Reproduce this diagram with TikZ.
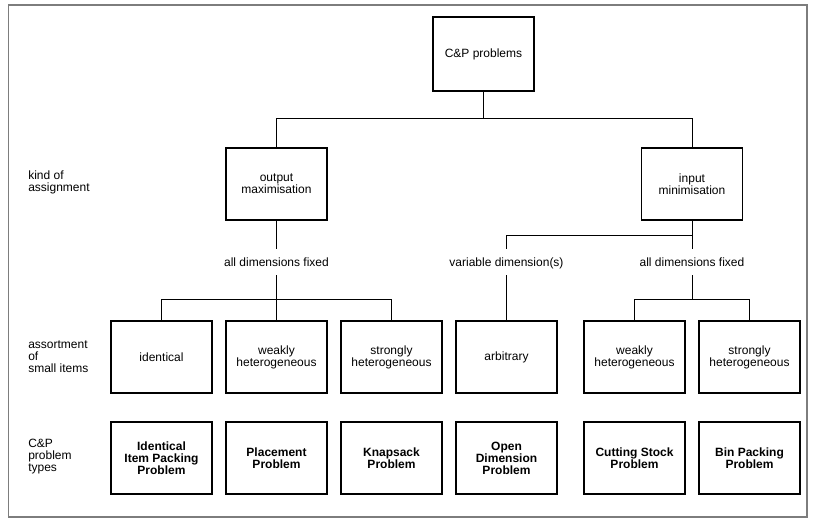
\documentclass[tikz,border=0pt]{standalone}
\usepackage{fontspec}
\setmainfont{Liberation Sans}
\definecolor{framegray}{RGB}{125,125,125}
\tikzset{
  box/.style={draw,line width=0.9pt,minimum width=75.75pt,minimum height=54pt,align=center,inner sep=0pt},
  tag/.style={inner sep=0pt,outer ysep=6.75pt,text height=6.6pt,text depth=0pt},
  side/.style={anchor=west,align=left,inner sep=0pt},
  wire/.style={line width=0.75pt}
}
\begin{document}
\begin{tikzpicture}[x=0.75pt,y=-0.75pt,font=\fontsize{9}{9}\selectfont]
\useasboundingbox (0,0) rectangle (818,528);
\draw [framegray,line width=0.9pt] (8.5,5) rectangle (807,517);

\node [side] (kind) at (28,182.5) {kind of\\assignment};
\node [side] (assort) at (28,357) {assortment\\of\\small items};
\node [side] (types) at (28,457) {C\&P\\problem\\types};

\node [box,minimum height=55.5pt] (cp) at (483.5,54) {C\&P problems};
\node [box] (out) at (276.5,184) {output\\maximisation};
\node [box] (in) at (692,184) {input\\minimisation};

\node [tag] (fixA) at (276.5,262) {all dimensions fixed};
\node [tag] (varD) at (506.5,262) {variable dimension(s)};
\node [tag] (fixB) at (692,262) {all dimensions fixed};

\node [box] (ident) at (161.5,357) {identical};
\node [box] (weakA) at (276.5,357) {weakly\\heterogeneous};
\node [box] (strongA) at (391.5,357) {strongly\\heterogeneous};
\node [box] (arb) at (506.5,357) {arbitrary};
\node [box] (weakB) at (634.5,357) {weakly\\heterogeneous};
\node [box] (strongB) at (749.5,357) {strongly\\heterogeneous};

\node [box,font=\fontsize{9}{9}\selectfont\bfseries] (iipp) at (161.5,458) {Identical\\Item Packing\\Problem};
\node [box,font=\fontsize{9}{9}\selectfont\bfseries] (place) at (276.5,458) {Placement\\Problem};
\node [box,font=\fontsize{9}{9}\selectfont\bfseries] (knap) at (391.5,458) {Knapsack\\Problem};
\node [box,font=\fontsize{9}{9}\selectfont\bfseries] (odp) at (506.5,458) {Open\\Dimension\\Problem};
\node [box,font=\fontsize{9}{9}\selectfont\bfseries] (csp) at (634.5,458) {Cutting Stock\\Problem};
\node [box,font=\fontsize{9}{9}\selectfont\bfseries] (bpp) at (749.5,458) {Bin Packing\\Problem};

\coordinate (top) at (483.5,119);
\coordinate (barA) at (276.5,299);
\coordinate (barB) at (692,235);
\coordinate (barC) at (692,299);

\draw [wire] (cp.south) -- (top);
\draw [wire] (out.north) -- (out.north |- top) -- (in.north |- top) -- (in.north);
\draw [wire] (out.south) -- (fixA.north);
\draw [wire] (fixA.south) -- (barA);
\draw [wire] (ident.north) -- (ident.north |- barA) -- (strongA.north |- barA) -- (strongA.north);
\draw [wire] (barA) -- (weakA.north);
\draw [wire] (in.south) -- (fixB.north);
\draw [wire] (varD.north) -- (varD.north |- barB) -- (barB);
\draw [wire] (varD.south) -- (arb.north);
\draw [wire] (fixB.south) -- (barC);
\draw [wire] (weakB.north) -- (weakB.north |- barC) -- (strongB.north |- barC) -- (strongB.north);
\end{tikzpicture}
\end{document}
